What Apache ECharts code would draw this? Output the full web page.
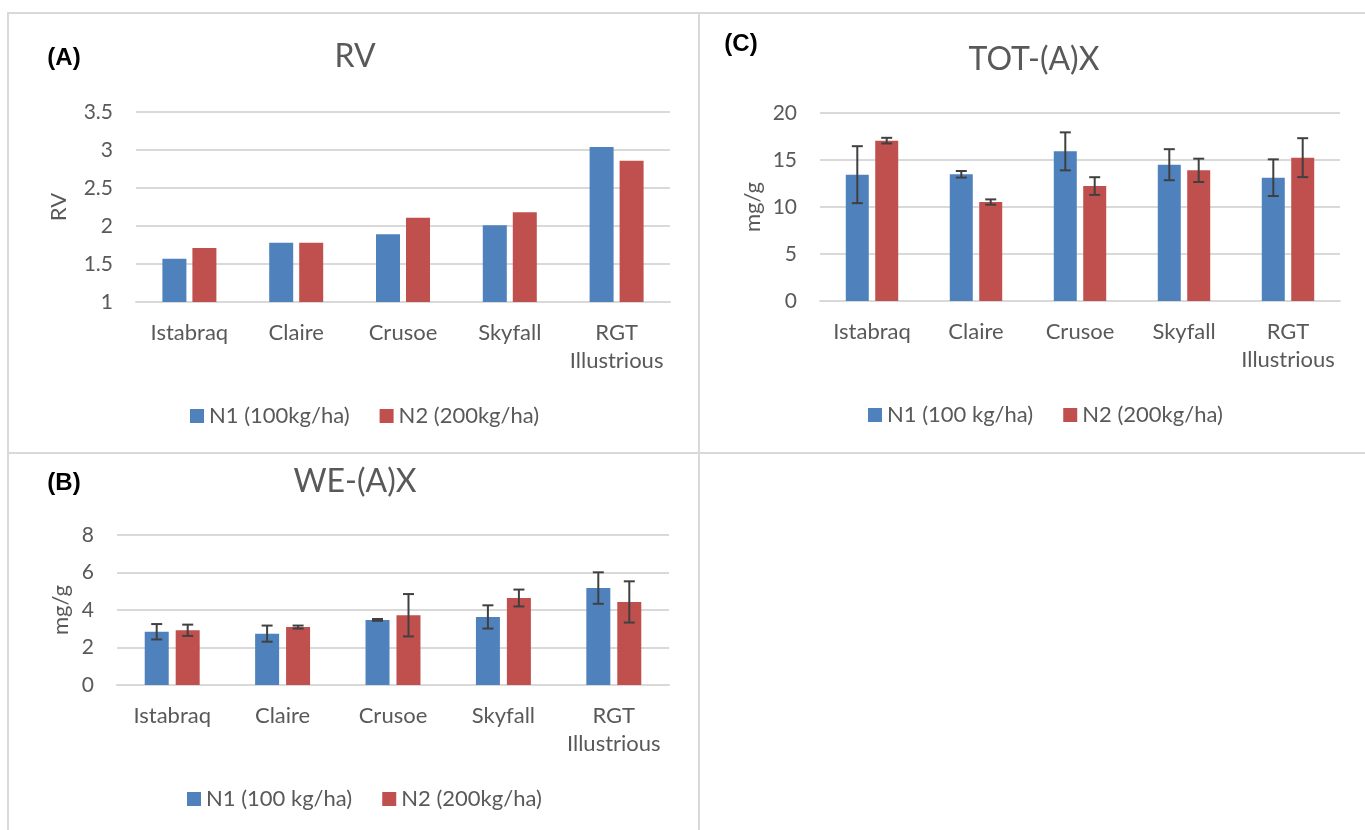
<!DOCTYPE html>
<html>
<head>
<meta charset="utf-8">
<script src="https://cdn.jsdelivr.net/npm/echarts@6/dist/echarts.min.js"></script>
<style>html,body{margin:0;padding:0;background:#fff;}#c{width:1365px;height:830px;}</style>
</head>
<body>
<div id="c"></div>
<script>
// ---- data ----
const categories = ['Istabraq', 'Claire', 'Crusoe', 'Skyfall', 'RGT\nIllustrious'];

const rvN1 = [1.57, 1.78, 1.89, 2.01, 3.04];
const rvN2 = [1.71, 1.78, 2.11, 2.18, 2.86];
const rvTicks = [1, 1.5, 2, 2.5, 3, 3.5];

const totN1 = [13.44, 13.48, 15.92, 14.5, 13.12];
const totN1Err = [3.03, 0.35, 2.02, 1.65, 1.95];
const totN2 = [17.06, 10.53, 12.23, 13.9, 15.25];
const totN2Err = [0.3, 0.28, 0.94, 1.24, 2.07];
const totTicks = [0, 5, 10, 15, 20];

const weN1 = [2.84, 2.74, 3.47, 3.63, 5.17];
const weN1Err = [0.41, 0.43, 0.05, 0.62, 0.84];
const weN2 = [2.92, 3.09, 3.72, 4.64, 4.43];
const weN2Err = [0.3, 0.08, 1.13, 0.45, 1.1];
const weTicks = [0, 2, 4, 6, 8];

const nameA1 = 'N1 (100kg/ha)';
const nameN1 = 'N1 (100 kg/ha)';
const nameN2 = 'N2 (200kg/ha)';

// ---- style ----
const FONT = 'Lato, "Noto Sans", sans-serif';
const TXT = '#595959';
const GRID = '#d9d9d9';
const BLUE = '#4f81bd';
const RED = '#c0504d';

function tickAxis(ticks) {
  return { min: ticks[0], max: ticks[ticks.length - 1], interval: ticks[1] - ticks[0] };
}

function xAx(gridIndex) {
  return {
    type: 'category', gridIndex: gridIndex, data: categories,
    axisLine: { lineStyle: { color: GRID, width: 2 } },
    axisTick: { show: false },
    axisLabel: { fontFamily: FONT, fontSize: 22, color: TXT, margin: 17, lineHeight: 28, interval: 0 }
  };
}
function yAx(gridIndex, ticks, name, gap) {
  return Object.assign({
    type: 'value', gridIndex: gridIndex,
    name: name, nameLocation: 'middle', nameGap: gap, nameRotate: 90,
    nameTextStyle: { fontFamily: FONT, fontSize: 22, color: TXT },
    axisLine: { show: false }, axisTick: { show: false },
    splitLine: { lineStyle: { color: GRID, width: 2 } },
    axisLabel: { fontFamily: FONT, fontSize: 21, color: TXT, margin: 23 }
  }, tickAxis(ticks));
}

function barS(name, data, color, gi, w, gap) {
  return {
    type: 'bar', name: name, data: data, xAxisIndex: gi, yAxisIndex: gi,
    barWidth: w, barGap: gap, itemStyle: { color: color }, z: 2
  };
}

function errS(name, vals, errs, gi, offset) {
  const d = vals.map(function (v, i) { return [i, v, errs[i]]; });
  return {
    type: 'custom', name: name, xAxisIndex: gi, yAxisIndex: gi, z: 5,
    data: d, encode: { x: 0, y: 1 }, silent: true,
    renderItem: function (params, api) {
      const i = api.value(0), v = api.value(1), e = api.value(2);
      const t = api.coord([i, v + e]);
      const b = api.coord([i, v - e]);
      const cx = t[0] + offset;
      const cap = 5.5;
      const st = { stroke: '#404040', lineWidth: 2 };
      return {
        type: 'group', children: [
          { type: 'line', shape: { x1: cx, y1: t[1], x2: cx, y2: b[1] }, style: st },
          { type: 'line', shape: { x1: cx - cap, y1: t[1], x2: cx + cap, y2: t[1] }, style: st },
          { type: 'line', shape: { x1: cx - cap, y1: b[1], x2: cx + cap, y2: b[1] }, style: st }
        ]
      };
    }
  };
}

function legend(left, top, names) {
  return {
    left: left, top: top, data: names, icon: 'rect', itemWidth: 14, itemHeight: 14, itemGap: 30,
    textStyle: { fontFamily: FONT, fontSize: 22, color: TXT }, selectedMode: false
  };
}

function txt(x, y, s, size, bold, color, family) {
  return {
    type: 'text', x: x, y: y, silent: true,
    style: { text: s, align: 'center', verticalAlign: 'middle', fontSize: size,
      fontWeight: bold ? 'bold' : 'normal', fill: color, fontFamily: family || FONT }
  };
}
function box(x, y, w, h) {
  return { type: 'rect', silent: true, shape: { x: x, y: y, width: w, height: h },
    style: { fill: 'none', stroke: GRID, lineWidth: 2 } };
}

const BOLDF = '"Liberation Sans", Arial, sans-serif';

const option = {
  backgroundColor: '#fff',
  animation: false,
  grid: [
    { left: 136, top: 112, width: 534, height: 190 },
    { left: 820, top: 113, width: 520, height: 188 },
    { left: 117, top: 535, width: 552, height: 150 }
  ],
  xAxis: [xAx(0), xAx(1), xAx(2)],
  yAxis: [yAx(0, rvTicks, 'RV', 66), yAx(1, totTicks, 'mg/g', 56), yAx(2, weTicks, 'mg/g', 45)],
  legend: [
    legend(185, 400, [nameA1, nameN2]),
    legend(863, 399, [nameN1, nameN2]),
    legend(182, 783, [nameN1, nameN2])
  ],
  series: [
    barS(nameA1, rvN1, BLUE, 0, 24, '25%'),
    barS(nameN2, rvN2, RED, 0, 24, '25%'),
    barS(nameN1, totN1, BLUE, 1, 23, '28%'),
    barS(nameN2, totN2, RED, 1, 23, '28%'),
    barS(nameN1, weN1, BLUE, 2, 24, '29%'),
    barS(nameN2, weN2, RED, 2, 24, '29%'),
    errS(nameN1, totN1, totN1Err, 1, -14.7),
    errS(nameN2, totN2, totN2Err, 1, 14.7),
    errS(nameN1, weN1, weN1Err, 2, -15.5),
    errS(nameN2, weN2, weN2Err, 2, 15.5)
  ],
  graphic: [
    box(8, 13, 691, 440),
    box(699, 13, 680, 440),
    box(8, 453, 691, 400),
    txt(64, 58, '(A)', 24, true, '#000', BOLDF),
    txt(741, 44, '(C)', 24, true, '#000', BOLDF),
    txt(64, 483, '(B)', 24, true, '#000', BOLDF),
    txt(355, 57, 'RV', 32, false, TXT),
    txt(1034, 60, 'TOT-(A)X', 32, false, TXT),
    txt(355, 482, 'WE-(A)X', 32, false, TXT)
  ]
};

const chart = echarts.init(document.getElementById('c'), null, { renderer: 'canvas' });
chart.setOption(option);
</script>
</body>
</html>
